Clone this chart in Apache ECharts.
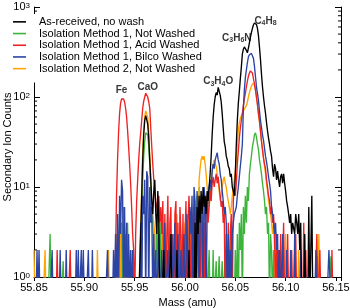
<!DOCTYPE html>
<html>
<head>
<meta charset="utf-8">
<title>SIMS spectrum, mass 56</title>
<script src="https://cdn.jsdelivr.net/npm/echarts@6/dist/echarts.min.js"></script>
<style>
  html, body { margin: 0; padding: 0; background: #fff; }
  #chart { width: 350px; height: 308px; }
</style>
</head>
<body>
<div id="chart"></div>
<script>
// spectrum bins: 55.850 .. 56.150 amu, one bin per 0.001 amu, counts per bin (0 = no counts)
var massStart = 55.85, massStep = 0.001;

var asReceived = [
  0,0,0,0,0,0,0,0,0,0,  0,0,0,0,0,0,0,0,0,0,  0,0,0,0,0,0,0,0,0,0,
  0,0,0,0,0,0,0,0,0,0,  0,0,0,0,0,0,0,0,0,0,  0,0,0,0,0,0,0,0,0,0,
  0,0,0,0,0,0,0,0,0,0,  0,0,0,0,0,0,0,0,0,0,  0,0,0,0,0,0,0,0,0,0,
  0,0,0,0,0,0,0,0,0,0,
  0,0,0,0,0,0,3,8,20,38,
  55,62,60,50,35,20,12,7,5,9,
  12,5,3,9,4,0,0,0,0,2,
  0,0,0,0,0,0,3,0,0,0,
  0,0,2,0,0,0,0,0,0,0,
  0,0,0,0,2,0,0,0,0,0,
  4,0,6,3,8,4,9,5,10,6,
  8,5,9,7,10,14,22,38,60,82,
  100,112,105,128,122,105,88,65,45,32,
  28,22,20,17,16,13,14,10,9,8,
  14,30,55,85,115,160,215,300,340,360,
  355,330,310,350,400,460,520,580,630,665,
  680,640,580,480,360,260,180,130,100,80,
  66,52,42,35,30,25,22,16,13,18,
  16,12,15,12,10,13,14,11,14,11,
  9,7,6,5,4,5,3,4,4,3,
  5,4,3,5,2,4,0,0,0,3,
  0,0,0,6,0,0,8,0,0,0,
  0,0,0,0,0,0,0,0,0,0,
  0,0,0,0,0,0,0,0,0,0,
  0
];

var method1NotWashed = [
  0,0,0,0,0,0,0,0,0,0,
  0,0,0,0,0,0,3,0,0,0,
  0,0,0,0,0,0,0,0,0,1.5,
  0,0,0,0,0,0,0,0,0,0,  0,0,0,0,0,0,0,0,0,0,  0,0,0,0,0,0,0,0,0,0,
  0,0,0,0,0,0,0,0,0,0,  0,0,0,0,0,0,0,0,0,0,
  0,0,0,3,0,5,0,4,0,6,
  0,3,0,4,0,0,2,0,0,0,
  0,0,0,0,0,0,3,6,12,22,
  32,40,42,38,28,18,10,6,4,2,
  0,0,5,0,7,0,4,0,3,0,
  0,0,0,2,0,0,0,0,3,0,
  0,0,4,0,0,0,0,2,0,0,
  0,0,3,0,0,0,0,4,0,0,
  6,0,8,0,10,0,7,0,5,0,
  0,3,0,0,2,0,0,0,2,0,
  0,1.5,0,0,1.7,0,0,1.5,0,0,
  1.8,0,0,2,0,0,3,0,0,0,
  2,0,3,0,4,2,5,0,6,3,
  8,4,10,7,14,18,22,28,32,38,
  40,36,30,26,20,17,14,11,9,7,
  5,6,3,4,0,3,2,0,2,0,
  0,0,0,0,0,0,0,0,0,0,  0,0,0,0,0,0,0,0,0,0,
  0,0,0,0,0,0,0,0,0,0,  0,0,0,0,0,0,0,0,0,0,
  0,0,1.7,0,0,0,0,0,0,0,
  0,0,0,0,0,1.7,0,0,0,0,
  0
];

var method1Acid = [
  0,0,0,0,0,0,0,0,0,0,  0,0,0,0,0,0,0,0,0,0,
  0,0,0,2,0,0,0,0,0,0,
  0,0,0,0,0,0,2,0,0,0,
  0,0,0,0,0,0,0,0,0,0,  0,0,0,0,0,0,0,0,0,0,
  0,0,0,0,0,0,0,0,0,0,  0,0,0,0,0,0,0,0,0,0,
  0,2,8,20,40,65,85,95,98,95,
  88,75,60,42,28,18,11,6,3,2,
  0,3,7,12,20,30,40,55,75,90,
  100,110,112,100,88,75,45,28,18,12,
  9,7,6,5,8,4,6,3,7,0,
  5,0,3,8,0,4,6,0,3,0,
  5,7,0,4,0,6,3,0,5,0,
  3,7,0,4,8,3,0,5,0,6,
  3,0,4,7,5,0,6,3,0,4,
  0,5,8,4,6,9,7,11,13,10,
  12,14,11,13,10,8,6,7,4,5,
  0,3,0,4,0,3,5,0,7,10,
  8,11,18,25,35,45,55,65,80,95,
  110,130,150,170,185,195,200,185,160,140,
  120,100,82,65,55,42,32,26,21,18,
  16,12,10,8,7,5,6,4,5,3,
  0,3,0,2,0,3,0,0,4,0,
  0,0,3,0,0,0,2,0,0,0,
  3,0,0,0,0,0,0,0,4,0,
  2,0,0,0,0,0,0,0,0,0,
  0,3,0,0,2,0,0,0,0,0,
  0,0,0,0,0,0,2,0,0,0,
  0
];

var method1Bilco = [
  0,0,0,2,0,2,0,0,0,0,
  0,0,0,0,0,0,0,0,2,0,
  0,0,0,0,0,0,2,0,0,0,
  0,0,2,0,0,0,0,0,0,0,
  0,0,2,0,2,0,0,2,0,2,
  0,0,0,0,2,0,0,0,2,0,
  0,0,0,0,0,0,0,0,0,0,
  0,0,0,2,0,0,0,0,0,2,
  0,3,0,5,0,8,3,12,9,0,
  6,0,4,0,3,0,2,0,2,0,
  0,0,0,0,0,0,4,0,8,5,
  12,0,15,13,0,10,4,6,0,3,
  0,2,0,0,3,0,0,2,0,0,
  4,0,0,2,0,0,0,3,0,0,
  4,0,0,3,0,0,2,0,0,3,
  0,0,5,0,0,6,3,8,0,10,
  7,0,9,5,0,4,8,6,0,10,
  7,0,5,8,10,12,9,15,18,16,
  20,22,24,20,18,14,12,9,7,5,
  6,4,0,3,0,2,0,3,4,5,
  5,6,8,10,13,17,22,30,75,120,
  165,200,240,280,295,310,305,290,270,220,
  170,130,110,92,70,55,46,38,33,27,
  22,19,16,13,11,9,6,5,4,3,
  4,2,3,0,2,0,0,3,0,0,
  0,2,0,0,0,2,0,0,0,3,
  0,0,0,0,0,2,0,0,0,2,
  2,0,0,0,0,0,0,0,0,0,
  2,0,0,0,0,0,0,0,0,0,
  0,0,0,2,2,0,0,0,0,0,
  0
];

var method2NotWashed = [
  2,0,0,0,0,0,0,0,0,0,
  0,2,0,0,0,0,0,0,0,0,
  0,0,0,0,0,0,0,0,0,0,  0,0,0,0,0,0,0,0,0,0,
  0,0,0,0,0,0,0,0,0,0,  0,0,0,0,0,0,0,0,0,0,
  0,0,0,2,0,0,0,0,0,0,
  0,0,0,0,2,0,0,0,0,0,
  0,0,3,0,2,0,4,0,0,0,
  3,0,0,2,0,0,0,0,0,0,
  0,0,0,0,0,0,4,10,25,45,
  60,70,72,60,40,22,12,7,5,4,
  3,0,0,0,3,0,0,0,4,0,
  0,0,2,0,0,0,0,3,0,0,
  0,0,5,0,0,0,3,0,0,0,
  4,0,0,0,6,3,0,0,5,8,
  6,0,0,0,12,16,20,22,20,22,
  18,14,10,8,6,8,12,15,18,20,
  18,17,14,12,9,7,8,10,12,13,
  11,10,8,7,6,5,6,8,10,12,
  15,20,30,42,52,58,62,66,70,74,
  76,80,88,100,112,122,132,140,145,138,
  120,100,82,66,52,42,33,26,21,17,
  14,11,9,7,6,5,4,3,4,2,
  0,3,0,0,0,0,0,0,0,0,
  3,0,0,0,0,0,0,0,0,2,
  0,0,0,2,0,0,0,0,0,0,
  0,0,0,0,0,0,0,0,0,0,
  0,0,0,3,0,0,0,0,0,0,
  0,0,0,0,0,0,0,0,0,0,
  0
];

var seriesNames = [
  'As-received, no wash',
  'Isolation Method 1, Not Washed',
  'Isolation Method 1, Acid Washed',
  'Isolation Method 1, Bilco Washed',
  'Isolation Method 2, Not Washed'
];
var seriesColors = ['#000000', '#3cb43c', '#ee2222', '#2b44a6', '#ffa500'];

// peak annotations, placed in data units (mass, counts) where the label sits
var peakNames = ['Fe', 'CaO', 'C{s|3}H{s|4}O', 'C{s|3}H{s|6}N', 'C{s|4}H{s|8}'];
var peakMass = [55.937, 55.963, 56.033, 56.0515, 56.080];
var peakCounts = [120, 129, 150, 452, 699];

var minorTickValues = [2,3,4,5,6,7,8,9, 20,30,40,50,60,70,80,90, 200,300,400,500,600,700,800,900];

var font = 'Liberation Sans, Arial, Helvetica, sans-serif';

function spectrum(idx, counts, z) {
  return {
    name: seriesNames[idx],
    type: 'line',
    data: counts.map(function (c, i) {
      return [massStart + i * massStep, c > 0 ? c : 0.5];
    }),
    symbol: 'none',
    clip: true,
    silent: true,
    z: z,
    lineStyle: { color: seriesColors[idx], width: 1.35 },
    itemStyle: { color: seriesColors[idx] }
  };
}

var chart = echarts.init(document.getElementById('chart'));
chart.setOption({
  animation: false,
  backgroundColor: '#fff',
  grid: { left: 34, right: 9, top: 7, bottom: 31, containLabel: false, outerBoundsMode: 'none' },
  legend: {
    data: seriesNames,
    orient: 'vertical',
    left: 9,
    top: 14,
    padding: [2, 4, 8, 4],
    itemGap: 0,
    itemWidth: 13,
    itemHeight: 1.6,
    icon: 'rect',
    backgroundColor: '#fff',
    selectedMode: false,
    textStyle: { fontSize: 11, fontFamily: font, color: '#000', lineHeight: 11.7, padding: [0, 0, 0, 8] }
  },
  xAxis: {
    type: 'value',
    min: 55.85,
    max: 56.155,
    interval: 0.05,
    name: 'Mass (amu)',
    nameLocation: 'middle',
    nameGap: 19,
    nameTextStyle: { fontSize: 11, fontFamily: font, color: '#000' },
    axisLine: { lineStyle: { color: '#000', width: 1 } },
    axisTick: { inside: false, length: 4, lineStyle: { color: '#000' } },
    axisLabel: {
      fontSize: 11, fontFamily: font, color: '#000', margin: 5,
      formatter: function (v) {
        return Math.abs(v * 20 - Math.round(v * 20)) < 1e-6 ? v.toFixed(2) : '';
      }
    },
    splitLine: { show: false }
  },
  yAxis: [{
    type: 'log',
    logBase: 10,
    min: 1,
    max: 1000,
    name: 'Secondary Ion Counts',
    nameLocation: 'middle',
    nameGap: 21,
    nameMoveOverlap: false,
    nameTextStyle: { fontSize: 11, fontFamily: font, color: '#000', padding: [0, 10, 0, 0] },
    axisLine: { show: true, lineStyle: { color: '#000', width: 1 } },
    axisTick: { show: true, inside: true, length: 6, lineStyle: { color: '#000' } },
    axisLabel: {
      margin: 4, color: '#000', fontSize: 11, fontFamily: font,
      formatter: function (v) {
        return '10{sup|' + Math.round(Math.log10(v)) + '}';
      },
      rich: {
        sup: { fontSize: 8, fontFamily: font, color: '#000', verticalAlign: 'top', lineHeight: 8 }
      }
    },
    splitLine: { show: false },
    minorTick: { show: false }
  }, {
    type: 'log',
    logBase: 10,
    min: 1,
    max: 1000,
    position: 'right',
    axisLine: { show: true, lineStyle: { color: '#000', width: 1 } },
    axisTick: { show: true, inside: true, length: 6, lineStyle: { color: '#000' } },
    axisLabel: { show: false },
    splitLine: { show: false }
  }],
  series: [
    spectrum(1, method1NotWashed, 2),
    spectrum(4, method2NotWashed, 3),
    spectrum(2, method1Acid, 4),
    spectrum(3, method1Bilco, 5),
    spectrum(0, asReceived, 6),
    {
      type: 'custom',
      silent: true,
      z: 3,
      data: minorTickValues.map(function (v) { return [massStart, v]; }),
      renderItem: function (params, api) {
        var y = api.coord([massStart, api.value(1)])[1];
        var cs = params.coordSys;
        return {
          type: 'group',
          children: [
            { type: 'line', shape: { x1: cs.x, y1: y, x2: cs.x + 3, y2: y }, style: { stroke: '#000', lineWidth: 1 } },
            { type: 'line', shape: { x1: cs.x + cs.width, y1: y, x2: cs.x + cs.width - 3, y2: y }, style: { stroke: '#000', lineWidth: 1 } }
          ]
        };
      }
    },
    {
      type: 'scatter',
      silent: true,
      z: 8,
      symbolSize: 1,
      itemStyle: { color: 'rgba(0,0,0,0)' },
      data: peakNames.map(function (n, i) { return [peakMass[i], peakCounts[i], n]; }),
      label: {
        show: true,
        position: 'inside',
        color: '#000',
        fontSize: 10,
        fontWeight: 'bold',
        fontFamily: font,
        lineHeight: 12,
        formatter: function (p) { return p.data[2]; },
        rich: {
          s: { fontSize: 7, fontWeight: 'bold', fontFamily: font, color: '#000', verticalAlign: 'bottom', lineHeight: 7 }
        }
      }
    }
  ]
});
</script>
</body>
</html>
